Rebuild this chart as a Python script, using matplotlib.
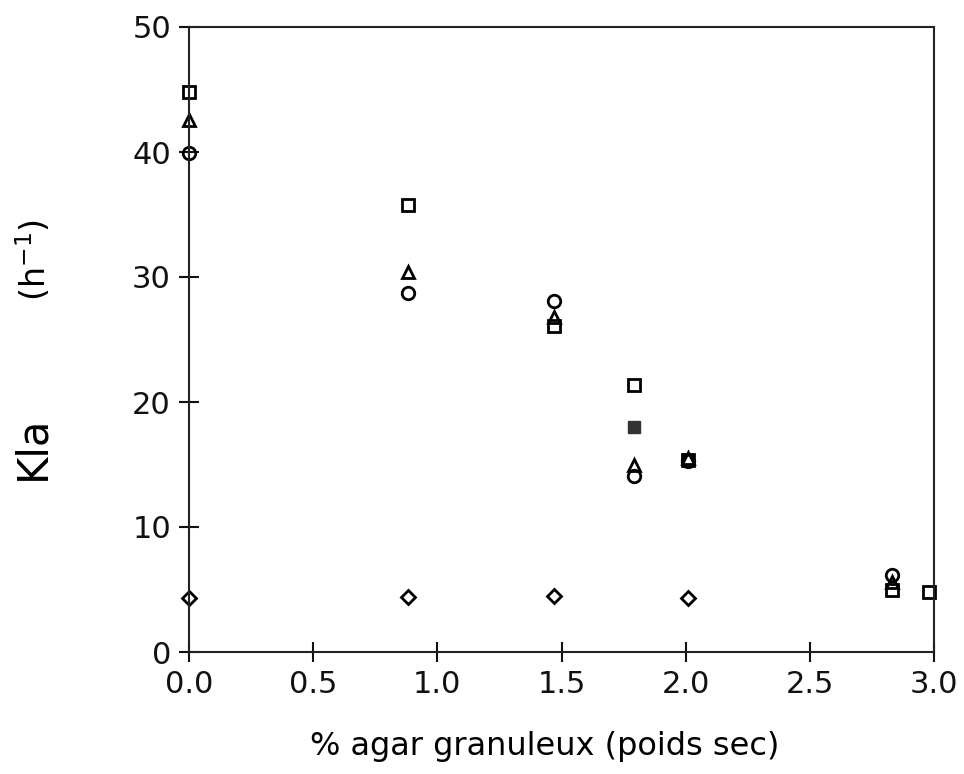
import matplotlib
matplotlib.use("Agg")
import matplotlib.pyplot as plt

# Data
x_sq = [0.0, 0.88, 1.47, 1.79, 2.01, 2.83, 2.98]
y_sq = [44.8, 35.8, 26.1, 21.4, 15.4, 5.0, 4.8]

x_tri = [0.0, 0.88, 1.47, 1.79, 2.01, 2.83]
y_tri = [42.6, 30.4, 26.8, 15.0, 15.5, 5.6]

x_circ = [0.0, 0.88, 1.47, 1.79, 2.01, 2.83]
y_circ = [39.9, 28.7, 28.1, 14.1, 15.3, 6.2]

x_fill = [1.79]
y_fill = [18.0]

x_dia = [0.0, 0.88, 1.47, 2.01]
y_dia = [4.3, 4.4, 4.5, 4.3]

xticks = [0.0, 0.5, 1.0, 1.5, 2.0, 2.5, 3.0]
xticklabels = ["0.0", "0.5", "1.0", "1.5", "2.0", "2.5", "3.0"]
yticks = [0, 10, 20, 30, 40, 50]
yticklabels = ["0", "10", "20", "30", "40", "50"]

plt.rcParams['font.family'] = ['DejaVu Sans']

fig = plt.figure(figsize=(9.64, 7.74), dpi=100)
ax = fig.add_axes([189/964, 1 - 652/774, (934-189)/964, (652-27)/774])

mk = dict(linestyle='none', markerfacecolor='none', markeredgecolor='black',
          markeredgewidth=2.0, clip_on=False)
ax.plot(x_sq, y_sq, marker='s', markersize=9, **mk)
ax.plot(x_tri, y_tri, marker='^', markersize=9, **mk)
ax.plot(x_circ, y_circ, marker='o', markersize=9, **mk)
ax.plot(x_dia, y_dia, marker='D', markersize=7, **mk)
ax.plot(x_fill, y_fill, marker='s', markersize=9, linestyle='none',
        markerfacecolor='#333333', markeredgecolor='#333333', clip_on=False)

ax.set_xlim(0, 3.0)
ax.set_ylim(0, 50)
ax.set_xticks(xticks)
ax.set_xticklabels(xticklabels)
ax.set_yticks(yticks)
ax.set_yticklabels(yticklabels)

for s in ax.spines.values():
    s.set_linewidth(1.5)
    s.set_color('#222222')

ax.tick_params(axis='both', direction='inout', length=14, width=1.5,
               labelsize=22, colors='#111111')
ax.tick_params(axis='x', pad=6)
ax.tick_params(axis='y', pad=6)

fig.text(545/964, 1 - 746/774, "% agar granuleux (poids sec)", ha='center',
         va='center', fontsize=23)
fig.text(32/964, 1 - 448/774, "Kla", rotation=90, ha='center', va='center',
         fontsize=30)
fig.text(34/964, 1 - 260/774, "(h$^{-1}$)", rotation=90, ha='center',
         va='center', fontsize=24)

fig.savefig("out.png", dpi=100)
